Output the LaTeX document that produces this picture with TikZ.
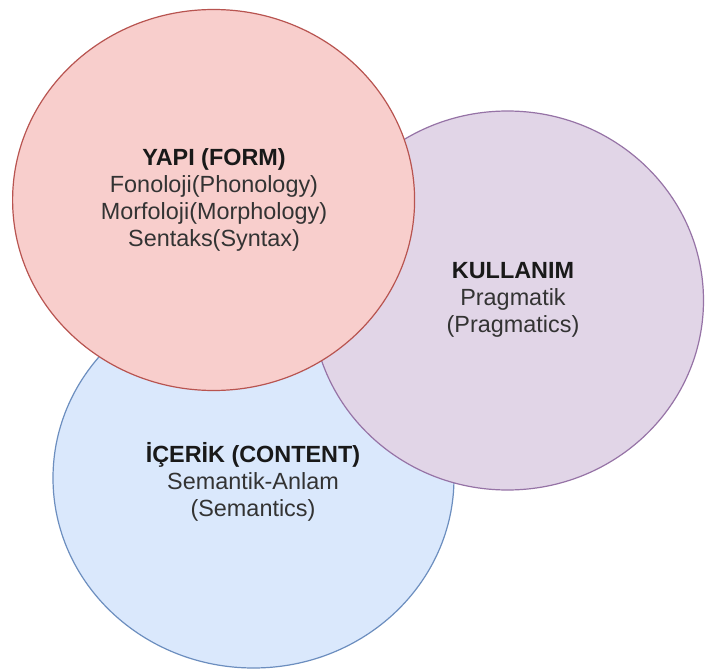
\documentclass[tikz,border=0pt]{standalone}
\usepackage{fontspec}
\setmainfont{Liberation Sans}
\usetikzlibrary{shapes.geometric}
\definecolor{redfill}{HTML}{F8CECC}
\definecolor{redline}{HTML}{B85450}
\definecolor{purfill}{HTML}{E1D5E7}
\definecolor{purline}{HTML}{9673A6}
\definecolor{bluefill}{HTML}{DAE8FC}
\definecolor{blueline}{HTML}{6C8EBF}
\definecolor{txt}{HTML}{333333}
\tikzset{
  venn/.style={ellipse, line width=1.2pt, inner sep=0pt},
  label/.style={align=center, text=txt, font=\fontsize{23.4}{27}\selectfont, inner sep=0pt},
}
\newcommand{\hd}[1]{\textbf{\textcolor{black!90}{#1}}}
\begin{document}
\begin{tikzpicture}[x=1pt,y=-1pt]
\useasboundingbox (0,0) rectangle (705,669);
\fill[white] (0,0) rectangle (705,669);
\node[venn, draw=blueline, fill=bluefill, minimum width=401pt, minimum height=380pt] (content) at (253.5,478) {};
\node[venn, draw=purline, fill=purfill, minimum width=392pt, minimum height=379pt] (use) at (507.5,300.5) {};
\node[venn, draw=redline, fill=redfill, minimum width=402pt, minimum height=381pt] (form) at (213.6,200) {};
\node[label] (formtext) at (214,200) {\hd{YAPI (FORM)}\\Fonoloji(Phonology)\\Morfoloji(Morphology)\\Sentaks(Syntax)};
\node[label] (usetext) at (513,300) {\hd{KULLANIM}\\Pragmatik\\(Pragmatics)};
\node[label] (contenttext) at (253,482) {\hd{İÇERİK (CONTENT)}\\Semantik-Anlam\\(Semantics)};
\end{tikzpicture}
\end{document}
